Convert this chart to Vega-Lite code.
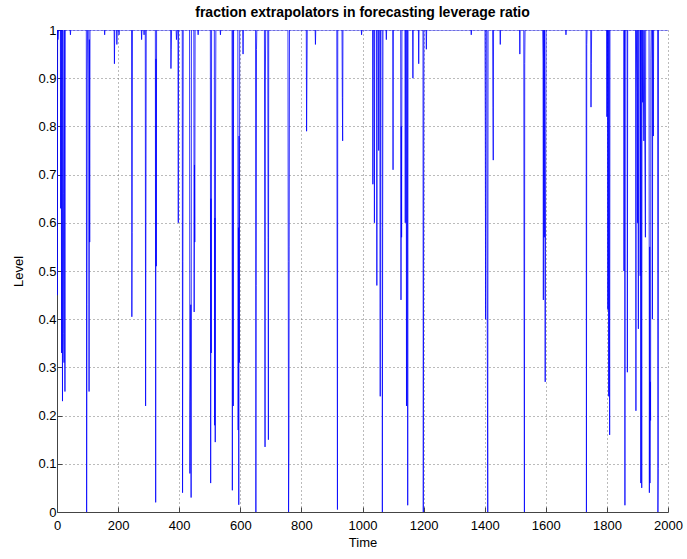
{
  "$schema": "https://vega.github.io/schema/vega-lite/v6.json",
  "autosize": "none",
  "width": 611,
  "height": 482,
  "padding": {"left": 57, "top": 30, "right": 19, "bottom": 47},
  "background": "white",
  "title": {"text": "fraction extrapolators in forecasting leverage ratio", "font": "Liberation Sans", "fontSize": 14, "fontWeight": "bold", "color": "black", "offset": 4, "anchor": "middle"},
  "config": {"view": {"stroke": null}},
  "data": {"values": [
    {"t":0,"v":1},{"t":1,"v":0.45},{"t":2,"v":1},{"t":3,"v":0.98},{"t":5,"v":1},{"t":11,"v":1},{"t":12,"v":0.63},{"t":13,"v":1},{"t":14,"v":0.91},{"t":15,"v":0.33},{"t":16,"v":1},{"t":18,"v":0.23},{"t":19,"v":1},{"t":21,"v":0.66},{"t":22,"v":0.37},{"t":23,"v":0.31},{"t":24,"v":1},{"t":26,"v":0.25},{"t":27,"v":1},
    {"t":43,"v":1},{"t":44,"v":0.99},{"t":45,"v":1},
    {"t":96,"v":1},{"t":97,"v":0},{"t":98,"v":0.43},{"t":99,"v":0.9},{"t":100,"v":1},{"t":104,"v":1},{"t":105,"v":0.25},{"t":106,"v":0.98},{"t":107,"v":0.56},{"t":108,"v":1},
    {"t":155,"v":1},{"t":156,"v":0.99},{"t":157,"v":1},
    {"t":187,"v":1},{"t":188,"v":0.93},{"t":189,"v":1},{"t":195,"v":1},{"t":196,"v":0.97},{"t":197,"v":1},{"t":202,"v":1},{"t":203,"v":0.99},{"t":204,"v":1},
    {"t":244,"v":1},{"t":245,"v":0.405},{"t":246,"v":0.58},{"t":247,"v":1},
    {"t":276,"v":1},{"t":277,"v":0.98},{"t":278,"v":1},{"t":284,"v":1},{"t":285,"v":0.99},{"t":286,"v":1},
    {"t":289,"v":1},{"t":290,"v":0.22},{"t":291,"v":0.61},{"t":292,"v":1},
    {"t":322,"v":1},{"t":323,"v":0.02},{"t":324,"v":0.94},{"t":325,"v":0.51},{"t":326,"v":1},
    {"t":372,"v":1},{"t":373,"v":0.92},{"t":374,"v":0.96},{"t":375,"v":1},
    {"t":390,"v":1},{"t":391,"v":0.98},{"t":393,"v":1},{"t":396,"v":1},{"t":397,"v":0.6},{"t":398,"v":1},
    {"t":410,"v":1},{"t":411,"v":0.04},{"t":412,"v":0.52},{"t":413,"v":1},
    {"t":434,"v":1},{"t":435,"v":0.08},{"t":436,"v":0.23},{"t":437,"v":0.28},{"t":438,"v":0.43},{"t":439,"v":0.03},{"t":440,"v":1},
    {"t":448,"v":1},{"t":449,"v":0.415},{"t":450,"v":0.72},{"t":451,"v":0.56},{"t":452,"v":1},
    {"t":461,"v":1},{"t":462,"v":0.99},{"t":463,"v":1},
    {"t":502,"v":1},{"t":503,"v":0.06},{"t":504,"v":0.65},{"t":505,"v":0.33},{"t":506,"v":1},
    {"t":515,"v":1},{"t":516,"v":0.18},{"t":517,"v":0.61},{"t":518,"v":0.145},{"t":519,"v":0.8},{"t":520,"v":1},
    {"t":534,"v":1},{"t":535,"v":0.99},{"t":536,"v":1},
    {"t":573,"v":1},{"t":574,"v":0.045},{"t":575,"v":0.66},{"t":576,"v":1},{"t":577,"v":0.22},{"t":578,"v":1},
    {"t":592,"v":1},{"t":593,"v":0.17},{"t":594,"v":0.59},{"t":595,"v":0.015},{"t":596,"v":0.78},{"t":597,"v":0.31},{"t":598,"v":1},
    {"t":608,"v":1},{"t":609,"v":0.95},{"t":610,"v":1},
    {"t":650,"v":1},{"t":651,"v":0},{"t":652,"v":0.47},{"t":653,"v":0.96},{"t":654,"v":1},
    {"t":679,"v":1},{"t":680,"v":0.56},{"t":681,"v":0.135},{"t":682,"v":0.89},{"t":683,"v":1},{"t":690,"v":1},{"t":691,"v":0.57},{"t":692,"v":0.15},{"t":693,"v":1},
    {"t":756,"v":1},{"t":757,"v":0.52},{"t":758,"v":0},{"t":759,"v":0.12},{"t":760,"v":0.55},{"t":761,"v":1},
    {"t":816,"v":1},{"t":817,"v":0.79},{"t":818,"v":0.89},{"t":819,"v":1},
    {"t":845,"v":1},{"t":846,"v":0.97},{"t":847,"v":1},
    {"t":916,"v":1},{"t":917,"v":0.5},{"t":918,"v":0.005},{"t":919,"v":1},
    {"t":933,"v":1},{"t":934,"v":0.86},{"t":935,"v":0.77},{"t":936,"v":1},
    {"t":996,"v":1},{"t":997,"v":0.99},{"t":998,"v":1},
    {"t":1033,"v":1},{"t":1034,"v":0.68},{"t":1035,"v":1},{"t":1038,"v":1},{"t":1039,"v":0.6},{"t":1040,"v":1},{"t":1046,"v":1},{"t":1047,"v":0.47},{"t":1048,"v":1},{"t":1052,"v":1},{"t":1053,"v":0.75},{"t":1054,"v":1},{"t":1057,"v":1},{"t":1058,"v":0.24},{"t":1059,"v":1},{"t":1064,"v":1},{"t":1065,"v":0},{"t":1066,"v":0.59},{"t":1067,"v":1},{"t":1077,"v":1},{"t":1078,"v":0.98},{"t":1079,"v":1},
    {"t":1099,"v":1},{"t":1100,"v":0.71},{"t":1101,"v":1},
    {"t":1125,"v":1},{"t":1126,"v":0.44},{"t":1127,"v":0.8},{"t":1128,"v":0.57},{"t":1129,"v":1},
    {"t":1139,"v":1},{"t":1140,"v":0.6},{"t":1141,"v":1},{"t":1143,"v":1},{"t":1144,"v":0.22},{"t":1145,"v":1},{"t":1147,"v":1},{"t":1148,"v":0.014},{"t":1149,"v":1},
    {"t":1164,"v":1},{"t":1165,"v":0.9},{"t":1166,"v":1},
    {"t":1183,"v":1},{"t":1184,"v":0.93},{"t":1185,"v":1},
    {"t":1198,"v":1},{"t":1199,"v":0},{"t":1200,"v":0.505},{"t":1201,"v":1},
    {"t":1208,"v":1},{"t":1209,"v":0.96},{"t":1210,"v":1},
    {"t":1355,"v":1},{"t":1356,"v":0.99},{"t":1357,"v":1},
    {"t":1401,"v":1},{"t":1402,"v":0.79},{"t":1403,"v":0.4},{"t":1404,"v":1},{"t":1407,"v":1},{"t":1408,"v":0.49},{"t":1410,"v":0},{"t":1411,"v":1},
    {"t":1426,"v":1},{"t":1427,"v":0.84},{"t":1428,"v":0.73},{"t":1429,"v":1},
    {"t":1450,"v":1},{"t":1451,"v":0.97},{"t":1452,"v":1},
    {"t":1514,"v":1},{"t":1515,"v":0.95},{"t":1516,"v":1},{"t":1528,"v":1},{"t":1529,"v":0.4},{"t":1530,"v":0},{"t":1531,"v":0.93},{"t":1532,"v":1},
    {"t":1590,"v":1},{"t":1591,"v":0.94},{"t":1592,"v":0.44},{"t":1593,"v":1},{"t":1595,"v":0.57},{"t":1596,"v":1},{"t":1598,"v":0.27},{"t":1599,"v":0.54},{"t":1600,"v":0.79},{"t":1601,"v":1},
    {"t":1665,"v":1},{"t":1666,"v":0.99},{"t":1667,"v":1},
    {"t":1732,"v":1},{"t":1733,"v":0},{"t":1734,"v":0.97},{"t":1735,"v":1},
    {"t":1747,"v":1},{"t":1748,"v":0.84},{"t":1749,"v":0.93},{"t":1750,"v":1},
    {"t":1799,"v":1},{"t":1800,"v":0.82},{"t":1801,"v":1},{"t":1802,"v":1},{"t":1803,"v":0.42},{"t":1804,"v":1},{"t":1806,"v":0.24},{"t":1807,"v":1},{"t":1809,"v":0.16},{"t":1810,"v":1},
    {"t":1855,"v":1},{"t":1856,"v":0.5},{"t":1857,"v":0.9},{"t":1858,"v":1},{"t":1859,"v":0.014},{"t":1860,"v":1},{"t":1866,"v":1},{"t":1867,"v":0.29},{"t":1868,"v":1},
    {"t":1894,"v":1},{"t":1895,"v":0.21},{"t":1896,"v":1},{"t":1899,"v":0.87},{"t":1900,"v":0.6},{"t":1901,"v":1},{"t":1903,"v":0.38},{"t":1904,"v":1},
    {"t":1908,"v":1},{"t":1909,"v":0.49},{"t":1910,"v":1},{"t":1911,"v":0.06},{"t":1912,"v":1},{"t":1914,"v":0.05},{"t":1915,"v":1},{"t":1917,"v":0.85},{"t":1918,"v":1},{"t":1921,"v":0.77},{"t":1922,"v":1},{"t":1926,"v":0.57},{"t":1927,"v":1},
    {"t":1938,"v":1},{"t":1939,"v":0.04},{"t":1940,"v":0.55},{"t":1941,"v":0.06},{"t":1942,"v":0.27},{"t":1943,"v":0.19},{"t":1944,"v":0.94},{"t":1945,"v":1},{"t":1948,"v":1},{"t":1949,"v":0.4},{"t":1950,"v":1},{"t":1952,"v":0.78},{"t":1953,"v":1},
    {"t":1966,"v":1},{"t":1967,"v":0},{"t":1968,"v":0.09},{"t":1969,"v":1},
    {"t":2000,"v":1}
  ]},
  "mark": {"type": "line", "color": "#0000ff", "strokeWidth": 0.8, "clip": true, "interpolate": "linear"},
  "encoding": {
    "x": {"field": "t", "type": "quantitative", "scale": {"domain": [0, 2000], "nice": false, "zero": false},
      "axis": {"title": "Time", "values": [0,200,400,600,800,1000,1200,1400,1600,1800,2000], "format": "d",
        "labelFont": "Liberation Sans", "labelFontSize": 13, "labelColor": "black", "labelPadding": 12, "labelFlush": false,
        "titleFont": "Liberation Sans", "titleFontSize": 13, "titleFontWeight": "normal", "titleColor": "black", "titlePadding": 4,
        "domainColor": "#444", "tickColor": "#444", "tickSize": -5,
        "grid": true, "gridColor": "#777", "gridDash": [1, 3], "gridWidth": 1}},
    "y": {"field": "v", "type": "quantitative", "scale": {"domain": [0, 1], "nice": false, "zero": false},
      "axis": {"title": "Level", "values": [0,0.1,0.2,0.3,0.4,0.5,0.6,0.7,0.8,0.9,1], "format": ".1~f",
        "labelFont": "Liberation Sans", "labelFontSize": 13, "labelColor": "black", "labelPadding": 6, "labelFlush": false,
        "titleFont": "Liberation Sans", "titleFontSize": 13, "titleFontWeight": "normal", "titleColor": "black", "titlePadding": 12,
        "domainColor": "#444", "tickColor": "#444", "tickSize": -5,
        "grid": true, "gridColor": "#777", "gridDash": [1, 3], "gridWidth": 1}}
  }
}
